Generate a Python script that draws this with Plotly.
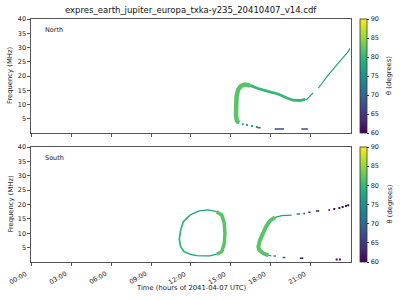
import plotly.graph_objects as go
from plotly.colors import sample_colorscale

TITLE = "expres_earth_jupiter_europa_txka-y235_20410407_v14.cdf"
X_TITLE = "Time (hours of 2041-04-07 UTC)"
Y_TITLE = "Frequency (MHz)"
C_TITLE = "θ (degrees)"

tick_hours = [0, 3, 6, 9, 12, 15, 18, 21]
tick_labels = ["00:00", "03:00", "06:00", "09:00", "12:00", "15:00", "18:00", "21:00"]
freq_ticks = [5, 10, 15, 20, 25, 30, 35, 40]
theta_ticks = [60, 65, 70, 75, 80, 85, 90]
THETA_MIN, THETA_MAX = 60, 90

# ---------------- North panel ----------------
north_tail_h = [15.56, 15.9, 16.21, 16.6, 16.96]
north_tail_f = [3.6, 3.1, 2.8, 2.5, 2.1]
north_tail_theta = 77

north_loop_h = [15.56, 15.44, 15.39, 15.39, 15.43, 15.54, 15.77, 16.07, 16.44]
north_loop_f = [3.6, 4.6, 6.3, 9.8, 12.6, 15.1, 16.5, 17.0, 16.7]
north_loop_theta = 82

north_desc_h = [16.44, 17.05, 17.80, 18.55, 19.23, 19.68, 20.20, 20.58]
north_desc_f = [16.7, 15.6, 14.6, 13.7, 12.3, 11.5, 11.4, 11.8]
north_desc_theta = 80

north_rise_h = [20.58, 20.71, 21.2, None, 21.58, 22.33, 23.08, 23.83, 23.96]
north_rise_f = [11.8, 11.8, 14.1, None, 15.7, 20.4, 24.5, 28.5, 29.7]
north_rise_theta = 77

north_dash_start = [17.0, 18.3, 20.3]
north_dash_end = [17.25, 19.0, 20.8]
north_dash_f = [1.8, 1.4, 1.4]
north_dash_theta = [72, 67, 67]

# ---------------- South panel ----------------
south_ring_thin_h = [13.94, 13.31, 12.6, 11.93]
south_ring_thin_f = [17.5, 18.1, 17.8, 16.3]
south_ring_left_h = [11.93, 11.43, 11.23, 11.13, 11.23, 11.48, 11.93]
south_ring_left_f = [16.3, 14.0, 11.1, 7.9, 5.3, 3.6, 2.7]
south_ring_bottom_h = [11.93, 12.44, 12.93, 13.44, 13.94]
south_ring_bottom_f = [2.7, 2.2, 2.1, 2.1, 2.7]
south_ring_thick_h = [13.94, 14.32, 14.51, 14.56, 14.51, 14.32, 13.94]
south_ring_thick_f = [17.5, 16.3, 13.5, 10.0, 6.5, 3.6, 2.7]
south_ring_thin_theta = 77
south_ring_left_theta = 80
south_ring_thick_theta = 82

south_hook_thick_h = [17.82, 17.44, 17.14, 17.07, 17.2, 17.4, 17.65, 17.95, 18.32]
south_hook_thick_f = [2.3, 3.0, 4.2, 5.3, 7.7, 10.0, 12.3, 14.4, 15.5]
south_hook_thick_theta = 82
south_hook_thin_h = [18.32, 18.83, 19.58]
south_hook_thin_f = [15.5, 16.1, 16.3]
south_hook_tail_h = [17.82, 18.05]
south_hook_tail_f = [2.3, 2.15]
south_hook_thin_theta = 77

south_dash_start = [18.2, 18.9, 20.2, 19.95, 20.45, 20.83, 21.4, 22.33]
south_dash_end = [18.4, 19.1, 20.45, 20.2, 20.58, 21.0, 21.65, 22.46]
south_dash_f = [2.1, 1.6, 1.3, 16.7, 16.9, 17.3, 17.7, 18.1]
south_dash_theta = [76, 68, 61, 73, 68, 64, 62, 61]

south_dot_h = [22.78, 23.16, 23.41, 23.66, 23.83, 22.96, 23.2]
south_dot_f = [18.4, 18.8, 19.1, 19.5, 19.7, 0.9, 0.9]
south_dot_theta = 61


def col(theta):
    return sample_colorscale("Viridis", [(theta - THETA_MIN) / (THETA_MAX - THETA_MIN)])[0]


fig = go.Figure()


def line(h, f, theta, width, xa, ya):
    fig.add_trace(go.Scatter(x=h, y=f, mode="lines", xaxis=xa, yaxis=ya,
                             line=dict(color=col(theta), width=width),
                             showlegend=False, hoverinfo="skip"))


def dots(h, f, theta, size, xa, ya):
    fig.add_trace(go.Scatter(x=h, y=f, mode="markers", xaxis=xa, yaxis=ya,
                             marker=dict(color=col(theta), size=size, symbol="square",
                                         line=dict(width=0)),
                             showlegend=False, hoverinfo="skip"))


# North
dots(north_tail_h, north_tail_f, north_tail_theta, 2, "x", "y")
line(north_loop_h, north_loop_f, north_loop_theta, 4.5, "x", "y")
line(north_desc_h, north_desc_f, north_desc_theta, 2.8, "x", "y")
line(north_rise_h, north_rise_f, north_rise_theta, 1.2, "x", "y")
for a, b, f, t in zip(north_dash_start, north_dash_end, north_dash_f, north_dash_theta):
    line([a, b], [f, f], t, 1.5, "x", "y")

# South
line(south_ring_thin_h, south_ring_thin_f, south_ring_thin_theta, 1.3, "x2", "y2")
line(south_ring_left_h, south_ring_left_f, south_ring_left_theta, 1.8, "x2", "y2")
line(south_ring_bottom_h, south_ring_bottom_f, south_ring_thin_theta, 1.3, "x2", "y2")
line(south_ring_thick_h, south_ring_thick_f, south_ring_thick_theta, 3.5, "x2", "y2")
line(south_hook_thick_h, south_hook_thick_f, south_hook_thick_theta, 4, "x2", "y2")
line(south_hook_thin_h, south_hook_thin_f, south_hook_thin_theta, 1.3, "x2", "y2")
line(south_hook_tail_h, south_hook_tail_f, south_hook_thin_theta, 1.3, "x2", "y2")
for a, b, f, t in zip(south_dash_start, south_dash_end, south_dash_f, south_dash_theta):
    line([a, b], [f, f], t, 1.5, "x2", "y2")
dots(south_dot_h, south_dot_f, south_dot_theta, 2, "x2", "y2")

W, H = 400, 300


def ann(text, xpx, ypx, size, angle=0, xanchor="center", yanchor="middle", color="#222"):
    fig.add_annotation(text=text, x=xpx / W, y=1 - ypx / H, xref="paper", yref="paper",
                       xanchor=xanchor, yanchor=yanchor, textangle=angle, showarrow=False,
                       font=dict(size=size, color=color))


# Colorbars (one per panel)
panels = {"top": (19, 133), "bottom": (147, 262)}
for key, (ytop, ybot) in panels.items():
    fig.add_trace(go.Scatter(
        x=[None], y=[None], mode="markers", xaxis="x", yaxis="y", showlegend=False,
        marker=dict(color=[THETA_MIN], cmin=THETA_MIN, cmax=THETA_MAX, colorscale="Viridis",
                    showscale=True,
                    colorbar=dict(x=360 / W, xanchor="left", xpad=0, ypad=0,
                                  y=1 - ytop / H, yanchor="top",
                                  len=(ybot - ytop) / H, lenmode="fraction",
                                  thickness=7, thicknessmode="pixels",
                                  outlinewidth=0.8, outlinecolor="#333",
                                  tickvals=theta_ticks, ticks="outside", ticklen=2.5,
                                  tickcolor="#333", tickwidth=0.8,
                                  tickfont=dict(size=6.5, color="#222")))))
    ann(C_TITLE, 389, (ytop + ybot) / 2, 6.8, angle=-90)
    ann(Y_TITLE, 10, (ytop + ybot) / 2, 6.8, angle=-90)

xdom = [31.3 / W, 350.5 / W]
axis_common = dict(showline=True, linecolor="#555", linewidth=0.9, mirror=True,
                   ticks="outside", ticklen=3, tickwidth=0.8, tickcolor="#555",
                   showgrid=False, zeroline=False, automargin=False,
                   tickfont=dict(size=6.5, color="#222"))

fig.update_layout(
    width=W, height=H, margin=dict(l=0, r=0, t=0, b=0, autoexpand=False),
    paper_bgcolor="white", plot_bgcolor="white",
    font=dict(family="DejaVu Sans", color="#222"),
    xaxis=dict(domain=xdom, range=[0, 24], anchor="y", tickvals=tick_hours,
               showticklabels=False, **axis_common),
    yaxis=dict(domain=[1 - 133 / H, 1 - 19 / H], range=[0, 40], anchor="x",
               tickvals=freq_ticks, **axis_common),
    xaxis2=dict(domain=xdom, range=[0, 24], anchor="y2", tickvals=tick_hours,
                showticklabels=False, **axis_common),
    yaxis2=dict(domain=[1 - 262 / H, 1 - 147 / H], range=[0, 40], anchor="x2",
                tickvals=freq_ticks, **axis_common),
)

# rotated time tick labels, right edge at the tick (matplotlib style)
for hval, lab in zip(tick_hours, tick_labels):
    fig.add_annotation(text=lab, x=hval, y=1 - 267.5 / H, xref="x2", yref="paper",
                       xanchor="right", yanchor="top", textangle=-30, showarrow=False,
                       font=dict(size=6.5, color="#222"))

ann(TITLE, 191, 10, 8.5, color="#111")
ann(X_TITLE, 191, 288, 6.8)
ann("North", 43, 29.5, 6.5, xanchor="left")
ann("South", 43, 157.5, 6.5, xanchor="left")

fig.write_html("out.html")
